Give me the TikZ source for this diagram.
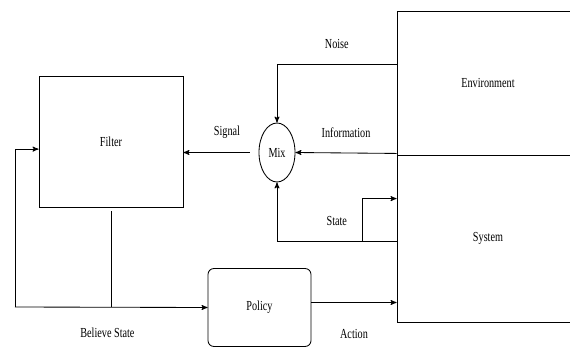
\documentclass[tikz,border=0pt]{standalone}
\usepackage{fontspec}
\setmainfont[FakeStretch=0.74]{Liberation Serif}
\usetikzlibrary{arrows,shapes.geometric}

\begin{document}
\begin{tikzpicture}[x=0.025cm,y=-0.025cm,->,>=stealth',line width=0.6pt,
  box node/.style={rectangle,draw,font=\fontsize{9.8}{11}\selectfont},
  mix node/.style={ellipse,draw,inner sep=0pt,minimum width=0.9cm,
    minimum height=1.475cm,font=\fontsize{9.8}{11}\selectfont},
  lab/.style={font=\fontsize{9.8}{11}\selectfont}]
  \useasboundingbox (0,0) rectangle (570,347);

  \node[box node, minimum width=3.6cm, minimum height=3.275cm] (filter) at (111,141.5) {Filter};
  \node[mix node] (mix) at (277,152.5) {Mix};
  \node[box node, minimum width=4.55cm, minimum height=3.6cm] (env) at (488,83) {Environment};
  \node[box node, minimum width=4.55cm, minimum height=4.175cm] (sys) at (488,238.5) {System};
  \node[box node, rounded corners=0.15cm, minimum width=2.575cm, minimum height=1.95cm] (policy) at (259.5,307.5) {Policy};
  \coordinate (bus) at (15,307);
  \coordinate (act) at ([yshift=0.125cm]policy.east);

  \draw ([yshift=0.475cm]env.west) -| node[lab,pos=0.25,yshift=0.5cm] {Noise} (mix.north);
  \draw ([yshift=0.05cm]env.south west) -- node[lab,yshift=0.5cm] {Information} (mix.east);
  \draw[shorten <=0.225cm] (mix.west) -- node[lab,pos=0.42,yshift=0.5cm] {Signal} (mix.west -| filter.east);
  \draw ([yshift=-0.0625cm]sys.west) -| node[lab,pos=0.25,yshift=0.5cm] {State}
    coordinate[pos=0.142] (fork) (mix.south);
  \draw (fork) |- ([yshift=-1.1cm]sys.north west);
  \draw[-] ([yshift=-0.1cm]filter.south) -- (filter.south |- bus);
  \draw (bus) -- node[lab,pos=0.48,yshift=-0.65cm] {Believe State} (policy.west);
  \draw (bus) |- ([yshift=-0.19cm]filter.west);
  \draw (act) -- node[lab,yshift=-0.78cm] {Action} (act -| sys.west);
\end{tikzpicture}
\end{document}
